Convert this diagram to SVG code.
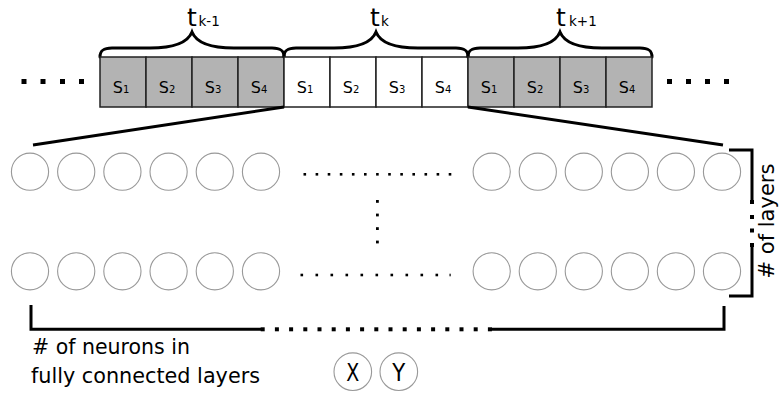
<svg xmlns="http://www.w3.org/2000/svg" width="779" height="394" viewBox="0 0 779 394">
  <style>
    .txt { font-family: "DejaVu Sans", "Liberation Sans", sans-serif; fill: #000; }
    .box-gray { fill: #b3b3b3; stroke: #222; stroke-width: 1.5; }
    .box-white { fill: #fff; stroke: #222; stroke-width: 1.5; }
    .neuron { fill: #fff; stroke: #999; stroke-width: 1.1; }
    .thick { stroke: #000; stroke-width: 3; fill: none; }
    .brace { stroke: #000; stroke-width: 3; fill: none; stroke-linecap: round; }
  </style>
  <defs>
    <path id="brace" class="brace" d="M0,57 C0,50 4,48 12,48 L50,48 C75,48 88,42 92,32 C96,42 109,48 134,48 L172,48 C180,48 184,50 184,57"/>
    <g id="row-left">
      <circle class="neuron" cx="30" cy="0" r="18.6"/>
      <circle class="neuron" cx="76.2" cy="0" r="18.6"/>
      <circle class="neuron" cx="122.4" cy="0" r="18.6"/>
      <circle class="neuron" cx="168.6" cy="0" r="18.6"/>
      <circle class="neuron" cx="214.8" cy="0" r="18.6"/>
      <circle class="neuron" cx="261" cy="0" r="18.6"/>
    </g>
    <g id="row-right">
      <circle class="neuron" cx="491.7" cy="0" r="18.6"/>
      <circle class="neuron" cx="537.8" cy="0" r="18.6"/>
      <circle class="neuron" cx="583.8" cy="0" r="18.6"/>
      <circle class="neuron" cx="629.9" cy="0" r="18.6"/>
      <circle class="neuron" cx="675.9" cy="0" r="18.6"/>
      <circle class="neuron" cx="722" cy="0" r="18.6"/>
    </g>
  </defs>

  <!-- time step t(k-1) -->
  <g id="step-k-minus-1">
    <use href="#brace" transform="translate(100,0)"/>
    <text class="txt" x="187" y="26" font-size="25">t</text>
    <text class="txt" x="198.5" y="26" font-size="13.5">k-1</text>
    <rect class="box-gray" x="100" y="57" width="46" height="50"/>
    <rect class="box-gray" x="146" y="57" width="46" height="50"/>
    <rect class="box-gray" x="192" y="57" width="46" height="50"/>
    <rect class="box-gray" x="238" y="57" width="46" height="50"/>
    <text class="txt" x="121" y="93" font-size="16" text-anchor="middle">S<tspan font-size="10">1</tspan></text>
    <text class="txt" x="167" y="93" font-size="16" text-anchor="middle">S<tspan font-size="10">2</tspan></text>
    <text class="txt" x="213" y="93" font-size="16" text-anchor="middle">S<tspan font-size="10">3</tspan></text>
    <text class="txt" x="259" y="93" font-size="16" text-anchor="middle">S<tspan font-size="10">4</tspan></text>
  </g>

  <!-- time step t(k) -->
  <g id="step-k">
    <use href="#brace" transform="translate(284,0)"/>
    <text class="txt" x="370" y="26" font-size="25">t</text>
    <text class="txt" x="381" y="26" font-size="13.5">k</text>
    <rect class="box-white" x="284" y="57" width="46" height="50"/>
    <rect class="box-white" x="330" y="57" width="46" height="50"/>
    <rect class="box-white" x="376" y="57" width="46" height="50"/>
    <rect class="box-white" x="422" y="57" width="46" height="50"/>
    <text class="txt" x="305" y="93" font-size="16" text-anchor="middle">S<tspan font-size="10">1</tspan></text>
    <text class="txt" x="351" y="93" font-size="16" text-anchor="middle">S<tspan font-size="10">2</tspan></text>
    <text class="txt" x="397" y="93" font-size="16" text-anchor="middle">S<tspan font-size="10">3</tspan></text>
    <text class="txt" x="443" y="93" font-size="16" text-anchor="middle">S<tspan font-size="10">4</tspan></text>
  </g>

  <!-- time step t(k+1) -->
  <g id="step-k-plus-1">
    <use href="#brace" transform="translate(468,0)"/>
    <text class="txt" x="556" y="26" font-size="25">t</text>
    <text class="txt" x="569" y="26" font-size="13.5">k+1</text>
    <rect class="box-gray" x="468" y="57" width="46" height="50"/>
    <rect class="box-gray" x="514" y="57" width="46" height="50"/>
    <rect class="box-gray" x="560" y="57" width="46" height="50"/>
    <rect class="box-gray" x="606" y="57" width="46" height="50"/>
    <text class="txt" x="489" y="93" font-size="16" text-anchor="middle">S<tspan font-size="10">1</tspan></text>
    <text class="txt" x="535" y="93" font-size="16" text-anchor="middle">S<tspan font-size="10">2</tspan></text>
    <text class="txt" x="581" y="93" font-size="16" text-anchor="middle">S<tspan font-size="10">3</tspan></text>
    <text class="txt" x="627" y="93" font-size="16" text-anchor="middle">S<tspan font-size="10">4</tspan></text>
  </g>

  <!-- ellipsis squares either side of the sequence -->
  <g id="seq-ellipsis" fill="#000">
    <rect x="21.5" y="79" width="5" height="5"/>
    <rect x="40.5" y="79" width="5" height="5"/>
    <rect x="60" y="79" width="5" height="5"/>
    <rect x="79" y="79" width="5" height="5"/>
    <rect x="667" y="79" width="5" height="5"/>
    <rect x="686" y="79" width="5" height="5"/>
    <rect x="705" y="79" width="5" height="5"/>
    <rect x="724" y="79" width="5" height="5"/>
  </g>

  <!-- fully connected layers -->
  <g id="layer-first">
    <use href="#row-left" transform="translate(0,171.7)"/>
    <use href="#row-right" transform="translate(0,171.7)"/>
  </g>
  <g id="layer-last">
    <use href="#row-left" transform="translate(0,271.3)"/>
    <use href="#row-right" transform="translate(0,271.3)"/>
  </g>

  <!-- elided neurons and layers -->
  <g id="layer-ellipsis" fill="#000">
    <rect x="303.5" y="173" width="2.6" height="2.6"/>
    <rect x="315.6" y="173" width="2.6" height="2.6"/>
    <rect x="327.7" y="173" width="2.6" height="2.6"/>
    <rect x="339.8" y="173" width="2.6" height="2.6"/>
    <rect x="351.9" y="173" width="2.6" height="2.6"/>
    <rect x="364" y="173" width="2.6" height="2.6"/>
    <rect x="376.1" y="173" width="2.6" height="2.6"/>
    <rect x="388.2" y="173" width="2.6" height="2.6"/>
    <rect x="400.3" y="173" width="2.6" height="2.6"/>
    <rect x="412.4" y="173" width="2.6" height="2.6"/>
    <rect x="424.5" y="173" width="2.6" height="2.6"/>
    <rect x="436.6" y="173" width="2.6" height="2.6"/>
    <rect x="448.7" y="173" width="2.6" height="2.6"/>

    <rect x="300.5" y="273.7" width="2.6" height="2.6"/>
    <rect x="315.5" y="273.7" width="2.6" height="2.6"/>
    <rect x="330.5" y="273.7" width="2.6" height="2.6"/>
    <rect x="345.5" y="273.7" width="2.6" height="2.6"/>
    <rect x="360.5" y="273.7" width="2.6" height="2.6"/>
    <rect x="375.5" y="273.7" width="2.6" height="2.6"/>
    <rect x="390.5" y="273.7" width="2.6" height="2.6"/>
    <rect x="405.5" y="273.7" width="2.6" height="2.6"/>
    <rect x="420.5" y="273.7" width="2.6" height="2.6"/>
    <rect x="435.5" y="273.7" width="2.6" height="2.6"/>
    <rect x="449.5" y="273.7" width="1.2" height="2.6"/>

    <rect x="376" y="200" width="2.8" height="2.8"/>
    <rect x="376" y="213.6" width="2.8" height="2.8"/>
    <rect x="376" y="227.2" width="2.8" height="2.8"/>
    <rect x="376" y="240.6" width="2.8" height="2.8"/>
  </g>

  <!-- expansion of t(k) into the network -->
  <g id="connectors">
    <line class="thick" x1="284" y1="107" x2="33" y2="145"/>
    <line class="thick" x1="468" y1="107" x2="723" y2="145"/>
  </g>

  <!-- depth bracket -->
  <g id="layers-bracket">
    <path class="thick" d="M729,150 H752 V201"/>
    <path class="thick" d="M752,245 V296 H729"/>
    <g fill="#000">
      <rect x="750" y="200" width="4" height="4"/>
      <rect x="750" y="215" width="4" height="4"/>
      <rect x="750" y="228.5" width="4" height="4"/>
      <rect x="750" y="243" width="4" height="4"/>
    </g>
    <text class="txt" font-size="21" text-anchor="middle" transform="translate(774,221) rotate(-90)"># of layers</text>
  </g>

  <!-- width bracket -->
  <g id="neurons-bracket">
    <path class="thick" d="M31,305 V329.3 H261"/>
    <path class="thick" d="M491,329.3 H724 V306"/>
    <g fill="#000">
      <rect x="260.7" y="327.3" width="4" height="4"/>
      <rect x="274.9" y="327.3" width="4" height="4"/>
      <rect x="289.1" y="327.3" width="4" height="4"/>
      <rect x="303.3" y="327.3" width="4" height="4"/>
      <rect x="317.5" y="327.3" width="4" height="4"/>
      <rect x="331.7" y="327.3" width="4" height="4"/>
      <rect x="345.9" y="327.3" width="4" height="4"/>
      <rect x="360.1" y="327.3" width="4" height="4"/>
      <rect x="374.3" y="327.3" width="4" height="4"/>
      <rect x="388.5" y="327.3" width="4" height="4"/>
      <rect x="402.7" y="327.3" width="4" height="4"/>
      <rect x="416.9" y="327.3" width="4" height="4"/>
      <rect x="431.1" y="327.3" width="4" height="4"/>
      <rect x="445.3" y="327.3" width="4" height="4"/>
      <rect x="459.5" y="327.3" width="4" height="4"/>
      <rect x="473.7" y="327.3" width="4" height="4"/>
      <rect x="487.9" y="327.3" width="4" height="4"/>
    </g>
    <text class="txt" x="32" y="354" font-size="22" textLength="158" lengthAdjust="spacingAndGlyphs"># of neurons in</text>
    <text class="txt" x="31" y="383" font-size="22" textLength="229" lengthAdjust="spacingAndGlyphs">fully connected layers</text>
  </g>

  <!-- outputs -->
  <g id="output-x">
    <circle class="neuron" cx="352.8" cy="371.7" r="18.8"/>
    <text class="txt" x="346.3" y="381" font-size="25" textLength="13" lengthAdjust="spacingAndGlyphs">X</text>
  </g>
  <g id="output-y">
    <circle class="neuron" cx="398.8" cy="371.7" r="18.8"/>
    <text class="txt" x="392.3" y="381" font-size="25" textLength="13" lengthAdjust="spacingAndGlyphs">Y</text>
  </g>
</svg>
